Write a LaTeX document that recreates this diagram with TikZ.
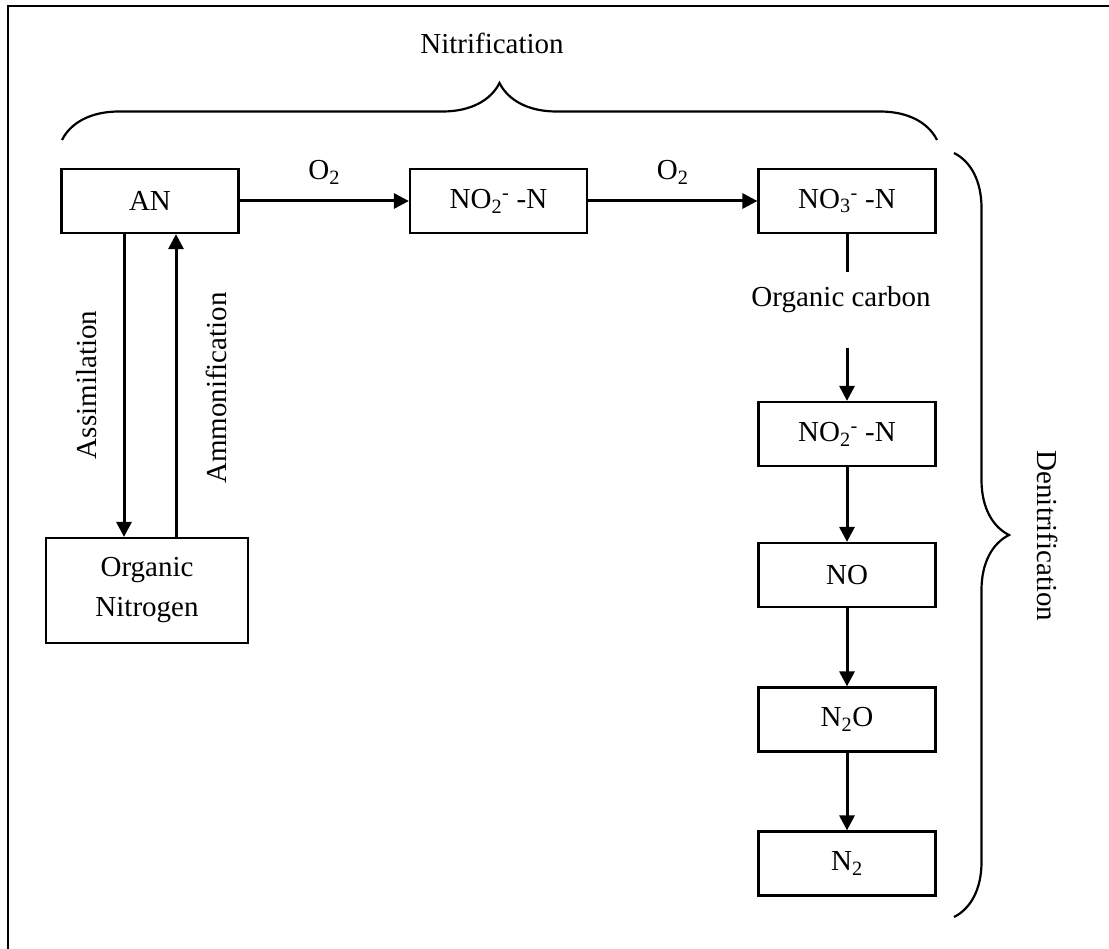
\documentclass[tikz,border=0pt]{standalone}
\usepackage{fontspec}
\setmainfont{Liberation Serif}
\usetikzlibrary{arrows.meta,positioning,calc,decorations.pathreplacing}

\begin{document}
\begin{tikzpicture}[x=1pt,y=-1pt,
    every node/.style={font=\fontsize{29}{34}\selectfont},
    box/.style={draw,line width=2.2pt,minimum width=177pt,minimum height=64pt,inner sep=0pt},
    arr/.style={line width=3pt,-{Triangle[length=15pt,width=15pt]}},
    oxlabel/.style={above,yshift=12pt},
    bracedeco/.style={line width=2.2pt,decorate,decoration={brace,amplitude=#1}}]
    \useasboundingbox (0,0) rectangle (1109,949);

    % frame (top and left)
    \draw[line width=2.5pt] (8,949) -- (8,6) -- (1109,6);

    % Nitrification chain
    \node[box] (an) at (150,201) {AN};
    \node[box] (nitA) at (498.5,201) {NO\textsubscript{2}\textsuperscript{-} -N};
    \node[box] (nat) at (847,201) {NO\textsubscript{3}\textsuperscript{-} -N};

    % Organic nitrogen
    \node[box,minimum width=202pt,minimum height=105pt,align=center,
          font=\fontsize{29}{40}\selectfont] (orgN) at (147,590.5) {Organic\\Nitrogen};

    % Denitrification chain
    \node (carbon) at (841,300) {Organic carbon};
    \coordinate (cTop) at (847,272);
    \coordinate (cBot) at (847,348);
    \node[box] (nitB) at (847,434) {NO\textsubscript{2}\textsuperscript{-} -N};
    \node[box] (no) at (847,575) {NO};
    \node[box] (ntwoo) at (847,719.5) {N\textsubscript{2}O};
    \node[box] (ntwo) at (847,863.5) {N\textsubscript{2}};

    % Arrows
    \draw[arr] (an) -- node[oxlabel] {O\textsubscript{2}} (nitA);
    \draw[arr] (nitA) -- node[oxlabel] {O\textsubscript{2}} (nat);
    \draw[line width=3pt] (nat.south) -- (cTop);
    \draw[arr] (cBot) -- (nitB.north);
    \draw[arr] (nitB) -- (no);
    \draw[arr] (no) -- (ntwoo);
    \draw[arr] (ntwoo) -- (ntwo);
    \draw[arr] ([xshift=-26pt]an.south) -- ([xshift=-26pt]an.south |- orgN.north);
    \draw[arr] ([xshift=26pt]an.south |- orgN.north) -- ([xshift=26pt]an.south);

    % Process labels
    \node[rotate=90] (assim) at (87,385) {Assimilation};
    \node[rotate=90] (ammon) at (216,388) {Ammonification};

    % Braces
    \draw[bracedeco=57pt] (62,140) -- (937,140);
    \node (nitrif) at (492,43) {Nitrification};
    \draw[bracedeco=55pt] (954,153) -- (954,917);
    \node[rotate=-90] (denitrif) at (1048,536) {Denitrification};
\end{tikzpicture}
\end{document}
